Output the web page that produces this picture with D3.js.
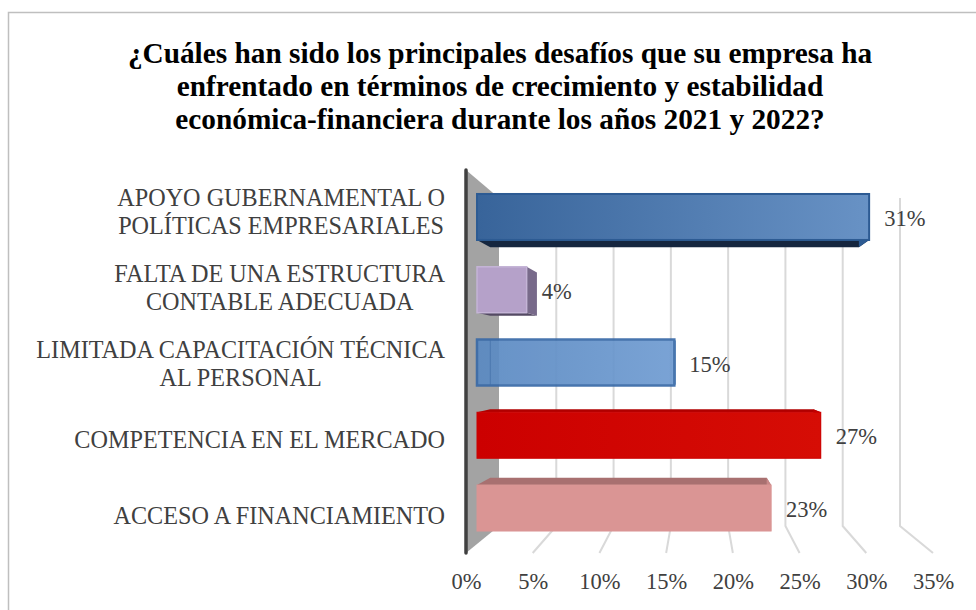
<!DOCTYPE html>
<html>
<head>
<meta charset="utf-8">
<script src="https://d3js.org/d3.v7.min.js"></script>
<style>
  html, body { margin: 0; padding: 0; background: #fff; }
  svg { display: block; }
  text { font-family: "Liberation Serif", serif; }
</style>
</head>
<body>
<div id="chart"></div>
<script>
// Datos
var titulo = [
  "¿Cuáles han sido los principales desafíos que su empresa ha",
  "enfrentado en términos de crecimiento y estabilidad",
  "económica-financiera durante los años 2021 y 2022?"
];
var categorias = [
  "APOYO GUBERNAMENTAL O|POLÍTICAS EMPRESARIALES",
  "FALTA DE UNA ESTRUCTURA|CONTABLE ADECUADA",
  "LIMITADA CAPACITACIÓN TÉCNICA|AL PERSONAL",
  "COMPETENCIA EN EL MERCADO",
  "ACCESO A FINANCIAMIENTO"
];
var valores = [30.8, 3.9, 15.5, 27, 23.1];
var etiquetas = ["31%", "4%", "15%", "27%", "23%"];
var ticks = [0, 5, 10, 15, 20, 25, 30, 35];

var width = 976, height = 610;

var svg = d3.select("#chart").append("svg")
  .attr("width", width)
  .attr("height", height);

// Escalas: pared del fondo, plano frontal del piso y plano de las barras
var xFondo = d3.scaleLinear().domain([0, 35]).range([499, 900]);
var xPiso = d3.scaleLinear().domain([0, 35]).range([466, 933]);
var xBarra = d3.scaleLinear().domain([0, 35]).range([477, 922.6]);
var y = d3.scaleBand().domain(categorias)
  .range([180.6, 544.4]).paddingInner(0.368).paddingOuter(0.184);
// Los rotulos no van a la misma altura que las barras
var yRotulo = d3.scalePoint().domain(categorias).range([212, 516]);

// Perspectiva: el lado trasero de cada barra se acerca al punto de fuga
var fugaX = 698, fugaY = 362, prof = 0.06;
function atrasX(x) { return x + (fugaX - x) * prof; }
function atrasY(v) { return v + (fugaY - v) * prof; }

// Estilo de cada barra
var estilos = [
  { de: "#38649a", a: "#6892c5", borde: "#2d5b93", grosor: 2, bajo: "#15263f", lado: "#2d5b93", alfa: 1 },
  { de: "#b5a1c9", a: "#b5a1c9", borde: "#c4b4d6", grosor: 1.5, bajo: "#544a63", lado: "#786a8a", alfa: 1 },
  { de: "#5b8ac2", a: "#709cd2", borde: "#3a6ba8", grosor: 2.5, bajo: "#3a6ba8", lado: "#3a6ba8", alfa: 0.93, interior: true },
  { de: "#cc0000", a: "#d60d05", borde: "#cc0000", grosor: 1, sobre: "#b00000", lado: "#c00000", alfa: 1 },
  { de: "#da9594", a: "#da9594", borde: "#da9594", grosor: 1, sobre: "#a87070", lado: "#c88888", alfa: 1 }
];

var defs = svg.append("defs");
estilos.forEach(function(e, i) {
  var g = defs.append("linearGradient").attr("id", "barra" + i);
  g.append("stop").attr("offset", "0%").attr("stop-color", e.de);
  g.append("stop").attr("offset", "100%").attr("stop-color", e.a);
});

// Marco del grafico
svg.append("path")
  .attr("d", "M8.5,610V12.5H976")
  .attr("fill", "none")
  .attr("stroke", "#bfbfbf")
  .attr("stroke-width", 1.5);

// Titulo
svg.append("g").selectAll("text")
  .data(titulo)
  .enter()
  .append("text")
  .attr("x", 500)
  .attr("y", function(d, i) { return 63 + i * 33; })
  .attr("text-anchor", "middle")
  .attr("font-size", 29.3)
  .attr("font-weight", "bold")
  .attr("fill", "#000")
  .text(function(d) { return d; });

// Lineas de division: pared y piso
var yArriba = 198, yAbajo = 526, yPiso = 553, yPared = 170;
var rejilla = svg.append("g");
rejilla.selectAll("path")
  .data(ticks.slice(1))
  .enter()
  .append("path")
  .attr("d", function(d) {
    return "M" + xFondo(d) + "," + yArriba + "V" + yAbajo + "L" + xPiso(d) + "," + yPiso;
  })
  .attr("fill", "none")
  .attr("stroke", "#d9d9d9")
  .attr("stroke-width", 2);

// Pared lateral gris y eje vertical
svg.append("path")
  .attr("d", "M" + xPiso(0) + "," + yPared + "L" + xFondo(0) + "," + yArriba +
    "V" + yAbajo + "L" + xPiso(0) + "," + yPiso + "Z")
  .attr("fill", "#a3a3a3");
svg.append("line")
  .attr("x1", xPiso(0)).attr("x2", xPiso(0))
  .attr("y1", yPared).attr("y2", yPiso)
  .attr("stroke", "#404040")
  .attr("stroke-width", 3.5)
  .attr("stroke-linecap", "round");

// Barras con sus caras
var barras = svg.append("g").selectAll("g")
  .data(valores)
  .enter()
  .append("g")
  .attr("opacity", function(d, i) { return estilos[i].alfa; });

function cara(x0, x1, y0, y1) {
  return "M" + x0 + "," + y0 + "L" + x1 + "," + y0 + "L" + atrasX(x1) + "," + y1 +
    "L" + atrasX(x0) + "," + y1 + "Z";
}

barras.each(function(d, i) {
  var g = d3.select(this), e = estilos[i];
  var x0 = xBarra(0), x1 = xBarra(d);
  var top = y(categorias[i]), bottom = top + y.bandwidth();

  // cara inferior o superior segun la altura respecto al punto de fuga
  if (e.bajo) {
    g.append("path").attr("d", cara(x0, x1, bottom, atrasY(bottom))).attr("fill", e.bajo);
  } else {
    g.append("path").attr("d", cara(x0, x1, top, atrasY(top))).attr("fill", e.sobre);
  }
  // cara lateral derecha
  g.append("path")
    .attr("d", "M" + x1 + "," + top + "L" + atrasX(x1) + "," + atrasY(top) +
      "V" + atrasY(bottom) + "L" + x1 + "," + bottom + "Z")
    .attr("fill", e.lado);
  // cara frontal
  g.append("rect")
    .attr("x", x0)
    .attr("y", top)
    .attr("width", x1 - x0)
    .attr("height", y.bandwidth())
    .attr("fill", "url(#barra" + i + ")")
    .attr("stroke", e.borde)
    .attr("stroke-width", e.grosor);
  // arista trasera que se ve a traves de la barra
  if (e.interior) {
    g.append("line")
      .attr("x1", atrasX(x0)).attr("x2", atrasX(x0))
      .attr("y1", top).attr("y2", bottom)
      .attr("stroke", e.borde)
      .attr("stroke-opacity", 0.7);
  }
});

// Etiquetas de datos
svg.append("g").selectAll("text")
  .data(valores)
  .enter()
  .append("text")
  .attr("x", function(d) { return xBarra(d) + 15; })
  .attr("y", function(d, i) { return y(categorias[i]) + y.bandwidth() / 2 + 9; })
  .attr("font-size", 22.5)
  .attr("fill", "#404040")
  .text(function(d, i) { return etiquetas[i]; });

// Categorias a la izquierda: primera linea alineada a la derecha, la segunda centrada bajo ella
var cats = svg.append("g").selectAll("g")
  .data(categorias)
  .enter()
  .append("g");

cats.each(function(d) {
  var lineas = d.split("|");
  var g = d3.select(this);
  var primera = g.append("text")
    .attr("text-anchor", "end")
    .attr("font-size", 24.2)
    .attr("fill", "#404040")
    .attr("x", 445)
    .attr("y", yRotulo(d) + (lineas.length > 1 ? -6 : 8))
    .text(lineas[0]);
  if (lineas.length > 1) {
    var ancho = primera.node().getComputedTextLength();
    g.append("text")
      .attr("text-anchor", "middle")
      .attr("font-size", 24.2)
      .attr("fill", "#404040")
      .attr("x", 445 - ancho / 2)
      .attr("y", yRotulo(d) + 21.5)
      .text(lineas[1]);
  }
});

// Eje inferior
var eje = svg.append("g")
  .attr("transform", "translate(0,589)")
  .call(d3.axisBottom(xPiso).tickValues(ticks).tickSize(0).tickFormat(function(d) { return d + "%"; }));
eje.select(".domain").remove();
eje.selectAll("text")
  .attr("y", 0)
  .attr("dy", 0)
  .attr("font-family", "Liberation Serif")
  .attr("font-size", 22.5)
  .attr("fill", "#404040");
</script>
</body>
</html>
